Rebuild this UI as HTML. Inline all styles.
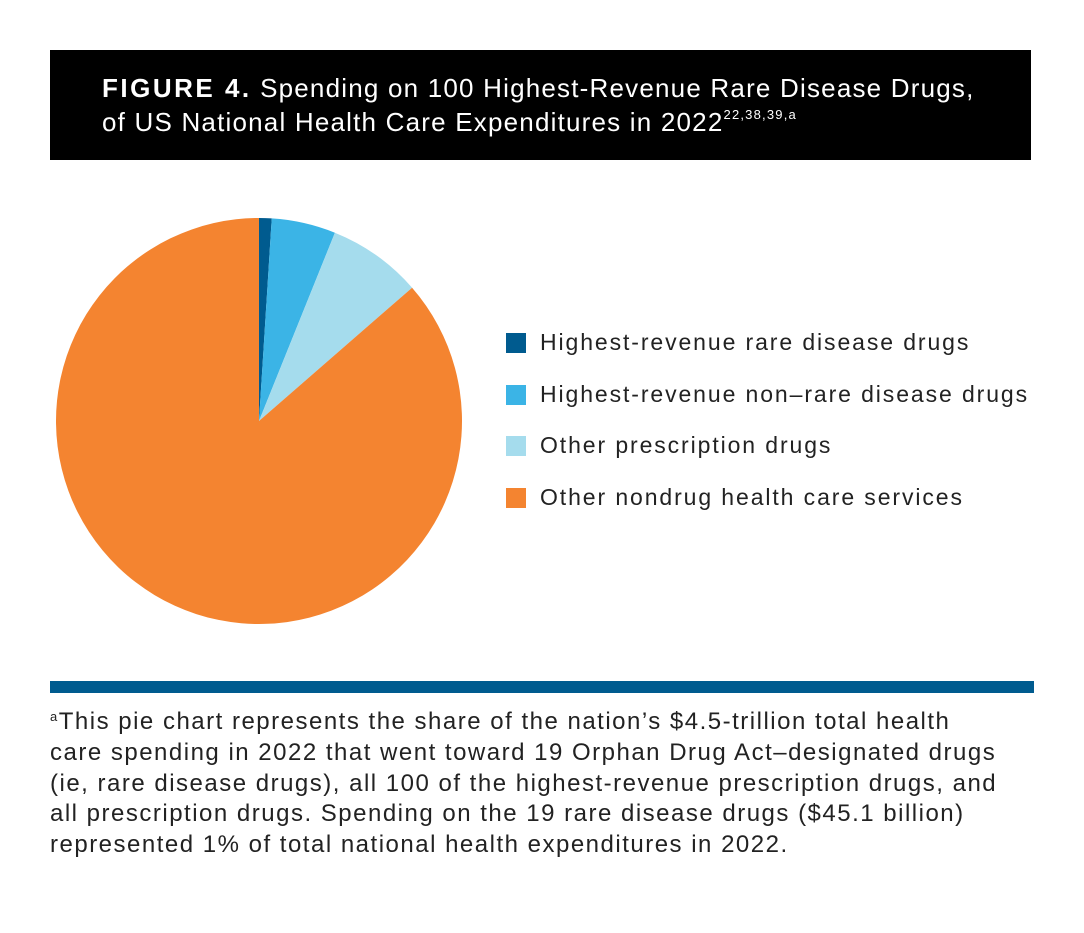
<!DOCTYPE html>
<html><head><meta charset="utf-8"><style>
body{margin:0;width:1084px;height:933px;background:#fff;font-family:"Liberation Sans",sans-serif;position:relative;overflow:hidden}
#hdr{position:absolute;left:50px;top:50px;width:981px;height:110px;background:#000;color:#fff;box-sizing:border-box;padding:21px 0 0 52px;font-size:26px;line-height:34px;letter-spacing:1.2px;white-space:nowrap}
#hdr b{letter-spacing:2.5px}
sup{font-size:13px;vertical-align:top;line-height:20px}
.leg{position:absolute;left:506px;font-size:23px;color:#222;letter-spacing:1.9px}
.sw{position:absolute;left:0;top:4px;width:20px;height:20px}
.leg span.t{position:absolute;left:34px;white-space:nowrap}
#rule{position:absolute;left:50px;top:681px;width:984px;height:12px;background:#005b8f}
#note{position:absolute;left:50px;top:707px;width:1030px;font-size:24px;line-height:30.8px;color:#222;letter-spacing:1.5px;white-space:nowrap}
</style></head><body>
<div id="hdr"><b>FIGURE 4.</b> Spending on 100 Highest-Revenue Rare Disease Drugs,<br>of US National Health Care Expenditures in 2022<sup>22,38,39,a</sup></div>
<svg id="pie" width="1084" height="933" style="position:absolute;left:0;top:0"></svg>
<div id="legend"></div>
<div id="rule"></div>
<div id="note"><sup style="font-size:13px">a</sup>This pie chart represents the share of the nation’s $4.5-trillion total health<br>care spending in 2022 that went toward 19 Orphan Drug Act–designated drugs<br>(ie, rare disease drugs), all 100 of the highest-revenue prescription drugs, and<br>all prescription drugs. Spending on the 19 rare disease drugs ($45.1 billion)<br>represented 1% of total national health expenditures in 2022.</div>
<script>
const categories=["Highest-revenue rare disease drugs","Highest-revenue non–rare disease drugs","Other prescription drugs","Other nondrug health care services"];
const values=[1.0,5.1,7.5,86.4];
const colors=["#005b8f","#3bb4e6","#a5dced","#f48430"];
const cx=259,cy=421,r=203;
const svg=document.getElementById('pie');
const total=values.reduce((a,b)=>a+b,0);
let a0=0;
values.forEach((v,i)=>{
  const a1=a0+v/total*2*Math.PI;
  const x0=cx+r*Math.sin(a0),y0=cy-r*Math.cos(a0),x1=cx+r*Math.sin(a1),y1=cy-r*Math.cos(a1);
  const p=document.createElementNS('http://www.w3.org/2000/svg','path');
  p.setAttribute('d',`M${cx},${cy}L${x0},${y0}A${r},${r} 0 ${a1-a0>Math.PI?1:0} 1 ${x1},${y1}Z`);
  p.setAttribute('fill',colors[i]);
  
  
  svg.appendChild(p);
  a0=a1;
});
const lg=document.getElementById('legend');
categories.forEach((c,i)=>{
  const d=document.createElement('div');
  d.className='leg';d.style.top=(329+i*51.5)+'px';
  
  
  d.innerHTML=`<div class="sw" style="background:${colors[i]}"></div><span class="t">${c}</span>`;
  lg.appendChild(d);
});
</script>
</body></html>
